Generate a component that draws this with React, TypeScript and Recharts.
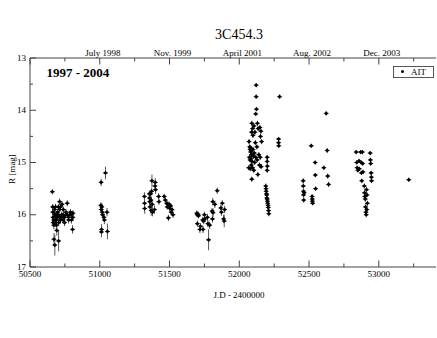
import React from 'react';
import { ScatterChart, Scatter, XAxis, YAxis, ErrorBar, Legend } from 'recharts';

type Obs = [number, number, number]; // [JD - 2400000, R mag, error]

const season1997: Obs[] = [
  [50660, 15.56, 0.05], [50663, 15.85, 0.06], [50664, 15.95, 0.06], [50665, 16.05, 0.08], [50666, 16.15, 0.08],
  [50670, 16.1, 0.07], [50671, 16.2, 0.08], [50672, 16.47, 0.12], [50676, 15.9, 0.06], [50677, 16.0, 0.06],
  [50678, 16.58, 0.2], [50681, 16.15, 0.07], [50682, 16.05, 0.06], [50683, 15.85, 0.06], [50687, 16.0, 0.06],
  [50688, 16.1, 0.07], [50689, 16.2, 0.08], [50692, 16.3, 0.1], [50697, 15.95, 0.06], [50698, 16.05, 0.07],
  [50703, 15.85, 0.06], [50704, 16.0, 0.06], [50705, 16.5, 0.2], [50706, 16.15, 0.07], [50712, 15.75, 0.06],
  [50713, 15.9, 0.06], [50714, 16.05, 0.07], [50718, 15.85, 0.06], [50719, 16.1, 0.07], [50727, 16.0, 0.06],
  [50728, 16.05, 0.06], [50730, 15.8, 0.06], [50737, 16.1, 0.07], [50738, 16.0, 0.06], [50739, 15.9, 0.06],
  [50747, 16.05, 0.07], [50748, 16.15, 0.07], [50757, 16.0, 0.06], [50758, 15.95, 0.06], [50767, 15.78, 0.06],
  [50768, 16.0, 0.06], [50776, 16.05, 0.07], [50777, 16.1, 0.07], [50786, 16.0, 0.06], [50790, 15.95, 0.06],
  [50796, 16.0, 0.06], [50797, 16.1, 0.07], [50805, 16.28, 0.08], [50807, 16.05, 0.07], [50808, 15.97, 0.06],
];

const season1998: Obs[] = [
  [51008, 15.82, 0.06], [51010, 15.38, 0.07], [51011, 15.9, 0.06], [51012, 16.33, 0.1], [51013, 16.28, 0.1],
  [51015, 15.85, 0.07], [51018, 15.95, 0.07], [51020, 16.0, 0.07], [51030, 16.05, 0.08], [51033, 16.1, 0.08],
  [51041, 15.2, 0.12], [51052, 15.95, 0.08], [51055, 16.32, 0.15],
];

const season1999: Obs[] = [
  [51320, 15.65, 0.08], [51321, 15.78, 0.08], [51322, 15.88, 0.1], [51355, 15.6, 0.06], [51357, 15.68, 0.07],
  [51358, 15.75, 0.07], [51360, 15.85, 0.08], [51365, 15.6, 0.07], [51367, 15.72, 0.07], [51369, 15.92, 0.1],
  [51372, 15.55, 0.07], [51374, 15.35, 0.12], [51376, 15.8, 0.08], [51378, 15.95, 0.08], [51392, 15.9, 0.08],
  [51396, 15.45, 0.08], [51398, 15.38, 0.08], [51400, 15.52, 0.08], [51422, 15.65, 0.06], [51424, 15.75, 0.06],
  [51462, 15.65, 0.05], [51470, 15.72, 0.05], [51480, 15.78, 0.05], [51484, 15.85, 0.05], [51488, 15.8, 0.06],
  [51492, 16.06, 0.06], [51498, 15.8, 0.05], [51502, 15.88, 0.06], [51508, 15.83, 0.05], [51512, 15.95, 0.06],
  [51518, 15.9, 0.06], [51525, 16.0, 0.06],
];

const season2000: Obs[] = [
  [51696, 15.97, 0.05], [51698, 16.0, 0.05], [51700, 16.17, 0.06], [51705, 15.99, 0.05], [51708, 16.02, 0.05],
  [51718, 16.28, 0.07], [51722, 16.22, 0.06], [51738, 16.1, 0.06], [51740, 16.28, 0.07], [51745, 16.12, 0.06],
  [51750, 16.0, 0.06], [51752, 16.08, 0.06], [51772, 16.05, 0.07], [51775, 16.17, 0.07], [51780, 16.48, 0.2],
  [51788, 16.2, 0.07], [51805, 15.93, 0.06], [51808, 16.08, 0.07], [51810, 15.75, 0.07], [51812, 15.96, 0.08],
  [51825, 15.8, 0.07], [51842, 15.54, 0.06], [51868, 15.87, 0.06], [51872, 15.95, 0.07], [51878, 15.78, 0.06],
  [51888, 16.08, 0.08], [51892, 16.12, 0.12], [51895, 15.9, 0.07],
];

const season2001: Obs[] = [
  [52121, 13.52, 0.04], [52121, 13.74, 0.04], [52123, 13.98, 0.04], [52118, 14.07, 0.04], [52090, 14.25, 0.05],
  [52095, 14.35, 0.05], [52088, 14.42, 0.05], [52098, 14.48, 0.05], [52105, 14.3, 0.05], [52112, 14.42, 0.05],
  [52130, 14.25, 0.05], [52135, 14.35, 0.05], [52148, 14.33, 0.05], [52155, 14.4, 0.05], [52152, 14.5, 0.05],
  [52070, 14.6, 0.05], [52075, 14.7, 0.05], [52078, 14.75, 0.05], [52080, 14.72, 0.05], [52082, 14.8, 0.05],
  [52085, 14.78, 0.05], [52088, 14.85, 0.05], [52073, 14.9, 0.05], [52077, 14.95, 0.05], [52083, 14.92, 0.05],
  [52092, 14.98, 0.05], [52098, 14.75, 0.05], [52102, 14.88, 0.05], [52108, 14.82, 0.05], [52068, 15.1, 0.05],
  [52079, 15.12, 0.05], [52086, 15.05, 0.05], [52095, 15.1, 0.05], [52104, 15.15, 0.05], [52110, 15.0, 0.05],
  [52090, 15.32, 0.05], [52115, 14.62, 0.05], [52118, 14.9, 0.05], [52126, 14.7, 0.05], [52128, 14.95, 0.05],
  [52133, 15.23, 0.05], [52140, 14.85, 0.05], [52145, 15.05, 0.05], [52150, 14.9, 0.05], [52157, 15.08, 0.05],
  [52160, 14.6, 0.05], [52200, 14.9, 0.05], [52200, 14.98, 0.05], [52201, 15.07, 0.05], [52200, 15.15, 0.05],
  [52190, 15.45, 0.05], [52192, 15.5, 0.05], [52193, 15.55, 0.05], [52195, 15.6, 0.05], [52197, 15.62, 0.05],
  [52198, 15.68, 0.05], [52200, 15.7, 0.05], [52202, 15.74, 0.05], [52204, 15.78, 0.05], [52206, 15.82, 0.05],
  [52208, 15.86, 0.05], [52210, 15.92, 0.05], [52212, 15.98, 0.05], [52282, 14.55, 0.04], [52282, 14.62, 0.04],
  [52283, 14.68, 0.04], [52289, 13.74, 0.04],
];

const season2002: Obs[] = [
  [52458, 15.35, 0.05], [52459, 15.45, 0.05], [52460, 15.55, 0.05], [52461, 15.62, 0.05], [52462, 15.72, 0.05],
  [52465, 15.58, 0.05], [52516, 14.68, 0.04], [52522, 15.65, 0.04], [52523, 15.7, 0.04], [52524, 15.74, 0.04],
  [52526, 15.78, 0.04], [52544, 15.0, 0.04], [52545, 15.24, 0.04], [52547, 15.5, 0.04], [52606, 15.1, 0.04],
  [52623, 14.06, 0.04], [52630, 14.77, 0.05], [52634, 15.26, 0.05], [52640, 15.42, 0.05],
];

const season2003: Obs[] = [
  [52838, 14.8, 0.04], [52842, 15.0, 0.04], [52845, 15.1, 0.04], [52850, 15.15, 0.04], [52858, 14.97, 0.04],
  [52860, 15.12, 0.04], [52870, 14.8, 0.04], [52874, 15.0, 0.04], [52876, 15.2, 0.04], [52878, 15.35, 0.04],
  [52882, 14.8, 0.04], [52884, 15.02, 0.04], [52886, 15.18, 0.04], [52896, 15.45, 0.05], [52898, 15.58, 0.05],
  [52900, 15.65, 0.05], [52903, 15.7, 0.05], [52905, 15.85, 0.05], [52908, 15.95, 0.05], [52910, 16.0, 0.05],
  [52912, 15.52, 0.05], [52915, 15.62, 0.05], [52918, 15.78, 0.05], [52914, 15.9, 0.05], [52938, 14.82, 0.04],
  [52940, 14.95, 0.04], [52942, 15.02, 0.04], [52945, 15.2, 0.04], [52947, 15.28, 0.04], [52948, 15.35, 0.04],
];

const season2004: Obs[] = [[53215, 15.33, 0.04]];

const xTicks = [50500, 50750, 51000, 51250, 51500, 51750, 52000, 52250, 52500, 52750, 53000, 53250];
const topTickValues = [51000, 51500, 52000, 52500, 53000];
const topTickNames = ['July 1998', 'Nov. 1999', 'April 2001', 'Aug. 2002', 'Dec. 2003'];
const yTicks = [13, 13.5, 14, 14.5, 15, 15.5, 16, 16.5, 17];

const data = [
  ...season1997, ...season1998, ...season1999, ...season2000,
  ...season2001, ...season2002, ...season2003, ...season2004,
].map(([jd, mag, err]) => ({ jd, mag, err }));

const FONT = '"Liberation Serif", "Times New Roman", serif';
const AXIS = '#444';

const BottomTick = (props: any) => {
  const { x, y, payload } = props;
  const v = payload.value as number;
  const major = v % 500 === 0;
  return (
    <g>
      <line x1={x} x2={x} y1={y} y2={y - (major ? 6.5 : 3.5)} stroke={AXIS} strokeWidth={1} />
      {major && (
        <text x={x} y={y + 10} textAnchor="middle" fontSize={9} fontFamily={FONT} fill="#000">
          {v}
        </text>
      )}
    </g>
  );
};

const TopTick = (props: any) => {
  const { x, y, payload } = props;
  const v = payload.value as number;
  const major = v % 500 === 0;
  const idx = topTickValues.indexOf(v);
  return (
    <g>
      <line x1={x} x2={x} y1={y} y2={y + (major ? 6.5 : 3.5)} stroke={AXIS} strokeWidth={1} />
      {idx >= 0 && (
        <text x={x + 3} y={y - 2.5} textAnchor="middle" fontSize={9} fontFamily={FONT} fill="#000">
          {topTickNames[idx]}
        </text>
      )}
    </g>
  );
};

const LeftTick = (props: any) => {
  const { x, y, payload } = props;
  const v = payload.value as number;
  const major = Number.isInteger(v);
  return (
    <g>
      <line x1={x} x2={x + (major ? 6 : 3)} y1={y} y2={y} stroke={AXIS} strokeWidth={1} />
      {major && (
        <text x={x - 4} y={y - 0.5} dy="0.35em" textAnchor="end" fontSize={9} fontFamily={FONT} fill="#000">
          {v}
        </text>
      )}
    </g>
  );
};

const Marker = (props: any) => {
  const { cx, cy } = props;
  if (cx == null || cy == null) return null;
  const r = 2.1;
  return (
    <g>
      <path d={`M${cx},${cy - r} L${cx + r},${cy} L${cx},${cy + r} L${cx - r},${cy} Z`} fill="#000" />
      <line x1={cx - 2.4} x2={cx + 2.4} y1={cy} y2={cy} stroke="#000" strokeWidth={0.8} />
    </g>
  );
};

const NoMarker = () => <g />;

const LegendBox = () => (
  <div
    style={{
      width: 39,
      height: 10,
      border: '1px solid #555',
      background: '#fff',
      fontFamily: FONT,
      fontSize: 9,
      lineHeight: '10px',
      position: 'relative',
      color: '#000',
    }}
  >
    <span style={{ position: 'absolute', left: 7, top: 3, width: 3, height: 3, borderRadius: 2, background: '#000' }} />
    <span style={{ position: 'absolute', left: 17, top: 0 }}>AIT</span>
  </div>
);

export default function App() {
  return (
    <div style={{ position: 'absolute', left: 0, top: 0, width: 437, height: 338, background: '#fff' }}>
      <ScatterChart width={437} height={338} margin={{ top: 38, right: 1, bottom: 29, left: 0 }}>
        <XAxis
          xAxisId="bottom"
          dataKey="jd"
          type="number"
          domain={[50500, 53410]}
          ticks={xTicks}
          interval={0}
          orientation="bottom"
          height={30}
          tickSize={0}
          tickMargin={0}
          tickLine={false}
          axisLine={{ stroke: AXIS, strokeWidth: 1 }}
          tick={BottomTick}
          allowDataOverflow
        />
        <XAxis
          xAxisId="top"
          dataKey="jd"
          type="number"
          domain={[50500, 53410]}
          ticks={xTicks}
          interval={0}
          orientation="top"
          height={20}
          tickSize={0}
          tickMargin={0}
          tickLine={false}
          axisLine={{ stroke: AXIS, strokeWidth: 1 }}
          tick={TopTick}
          allowDataOverflow
        />
        <YAxis
          dataKey="mag"
          type="number"
          domain={[13, 17]}
          reversed
          ticks={yTicks}
          interval={0}
          width={30}
          tickSize={0}
          tickMargin={0}
          tickLine={false}
          axisLine={{ stroke: AXIS, strokeWidth: 1 }}
          tick={LeftTick}
          allowDataOverflow
        />
        <Legend content={LegendBox} wrapperStyle={{ position: 'absolute', left: 393, top: 66, width: 41, height: 12 }} />
        <Scatter
          name="AIT"
          data={data}
          xAxisId="bottom"
          fill="#000"
          shape={Marker}
          isAnimationActive={false}
        >
          <ErrorBar dataKey="err" direction="y" width={0} stroke="#555" strokeWidth={1} isAnimationActive={false} />
        </Scatter>
        <Scatter
          name="top-axis-ref"
          data={data}
          xAxisId="top"
          fill="none"
          shape={NoMarker}
          legendType="none"
          isAnimationActive={false}
        />
      </ScatterChart>
      <svg
        width={437}
        height={338}
        style={{ position: 'absolute', left: 0, top: 0, pointerEvents: 'none' }}
      >
        <text x={239} y={38.5} textAnchor="middle" fontSize={14} fontFamily={FONT} fill="#000">3C454.3</text>
        <text x={46.5} y={77} textAnchor="start" fontSize={13} fontWeight="bold" fontFamily={FONT} fill="#000">1997 - 2004</text>
        <text x={239} y={298} textAnchor="middle" fontSize={9} fontFamily={FONT} fill="#000">J.D - 2400000</text>
        <text
          x={12}
          y={169}
          textAnchor="middle"
          dy="0.35em"
          fontSize={9}
          fontFamily={FONT}
          fill="#000"
          transform="rotate(-90 12 169)"
        >
          R [mag]
        </text>
      </svg>
    </div>
  );
}
